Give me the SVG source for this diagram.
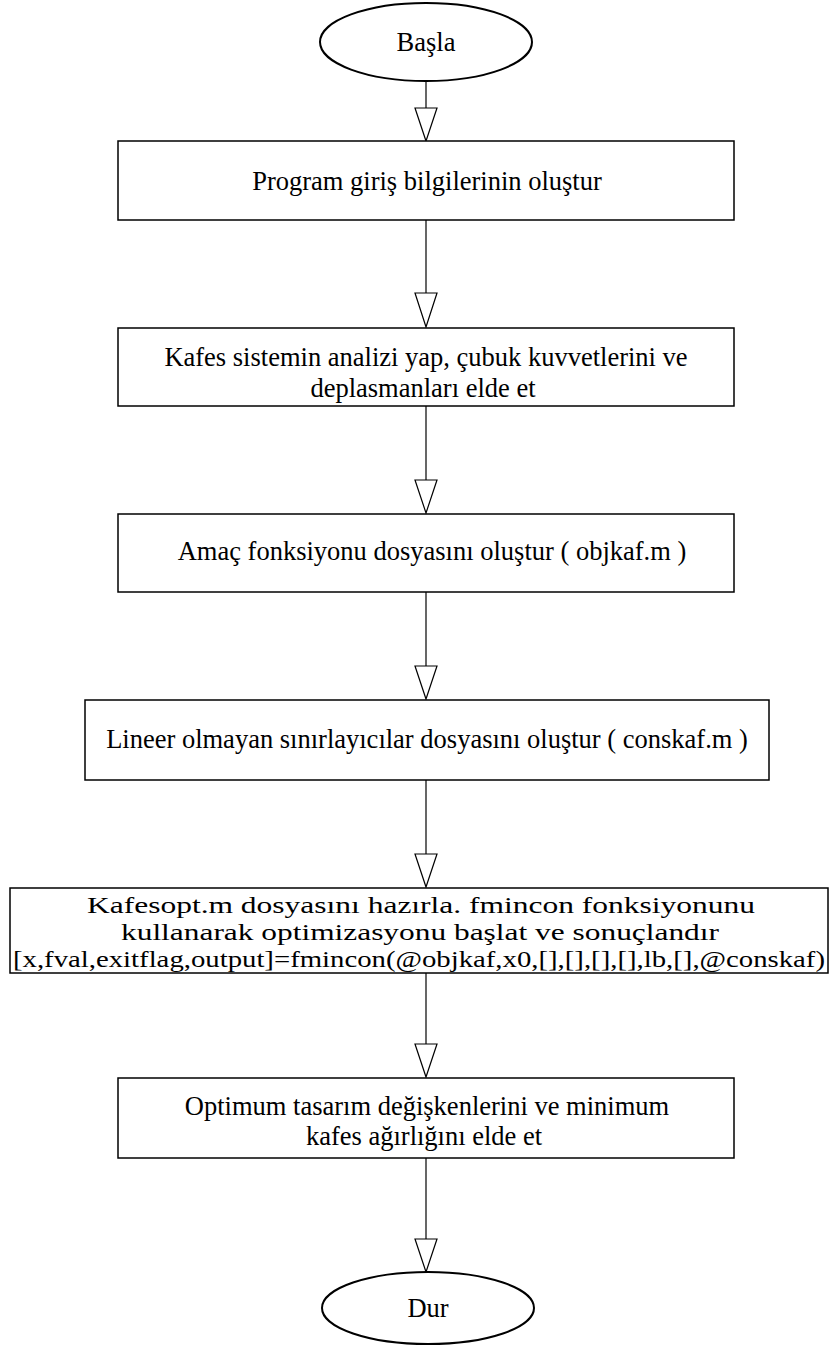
<svg xmlns="http://www.w3.org/2000/svg" width="829" height="1346" viewBox="0 0 829 1346">
<style>
.box{fill:#fff;stroke:#000;stroke-width:1.5}
.term{fill:#fff;stroke:#000;stroke-width:2}
.t{font-family:"Liberation Serif","Times New Roman",serif;font-size:26.5px;fill:#000;text-anchor:middle}
.s{font-size:24px}
.ln{stroke:#000;stroke-width:1.2;fill:none}
.ah{fill:#fff;stroke:#000;stroke-width:1.2}
</style>
<rect width="829" height="1346" fill="#fff"/>
<g id="connectors">
<line class="ln" x1="426" y1="81" x2="426" y2="108"/><polygon class="ah" points="415,108 437,108 426,141"/>
<line class="ln" x1="426" y1="220" x2="426" y2="293"/><polygon class="ah" points="415,293 437,293 426,327"/>
<line class="ln" x1="426" y1="406" x2="426" y2="480"/><polygon class="ah" points="415,480 437,480 426,513"/>
<line class="ln" x1="426" y1="592" x2="426" y2="666"/><polygon class="ah" points="415,666 437,666 426,699"/>
<line class="ln" x1="426" y1="780" x2="426" y2="854"/><polygon class="ah" points="415,854 437,854 426,887"/>
<line class="ln" x1="426" y1="973" x2="426" y2="1044"/><polygon class="ah" points="415,1044 437,1044 426,1077"/>
<line class="ln" x1="426" y1="1158" x2="426" y2="1239"/><polygon class="ah" points="415,1239 437,1239 426,1272"/>
</g>
<g id="start"><ellipse class="term" cx="426" cy="42" rx="106" ry="39"/><text class="t" x="426" y="51">Başla</text></g>
<g id="n1"><rect class="box" x="118" y="141" width="616" height="79"/><text class="t" x="427" y="190">Program giriş bilgilerinin oluştur</text></g>
<g id="n2"><rect class="box" x="118" y="328" width="616" height="78"/><text class="t" x="426" y="366">Kafes sistemin analizi yap, çubuk kuvvetlerini ve</text><text class="t" x="423" y="397">deplasmanları elde et</text></g>
<g id="n3"><rect class="box" x="118" y="514" width="616" height="78"/><text class="t" x="432" y="560">Amaç fonksiyonu dosyasını oluştur ( objkaf.m )</text></g>
<g id="n4"><rect class="box" x="85" y="700" width="684" height="80"/><text class="t" x="427" y="748">Lineer olmayan sınırlayıcılar dosyasını oluştur ( conskaf.m )</text></g>
<g id="n5"><rect class="box" x="10" y="888" width="818" height="85"/><text class="t s" x="421" y="913" textLength="668" lengthAdjust="spacingAndGlyphs">Kafesopt.m dosyasını hazırla. fmincon fonksiyonunu</text><text class="t s" x="420" y="940" textLength="598" lengthAdjust="spacingAndGlyphs">kullanarak optimizasyonu başlat ve sonuçlandır</text><text class="t s" x="419" y="967" textLength="812" lengthAdjust="spacingAndGlyphs">[x,fval,exitflag,output]=fmincon(@objkaf,x0,[],[],[],[],lb,[],@conskaf)</text></g>
<g id="n6"><rect class="box" x="118" y="1078" width="616" height="80"/><text class="t" x="427" y="1115">Optimum tasarım değişkenlerini ve minimum</text><text class="t" x="424" y="1145">kafes ağırlığını elde et</text></g>
<g id="end"><ellipse class="term" cx="428" cy="1308" rx="106" ry="36"/><text class="t" x="428" y="1317">Dur</text></g>
</svg>
